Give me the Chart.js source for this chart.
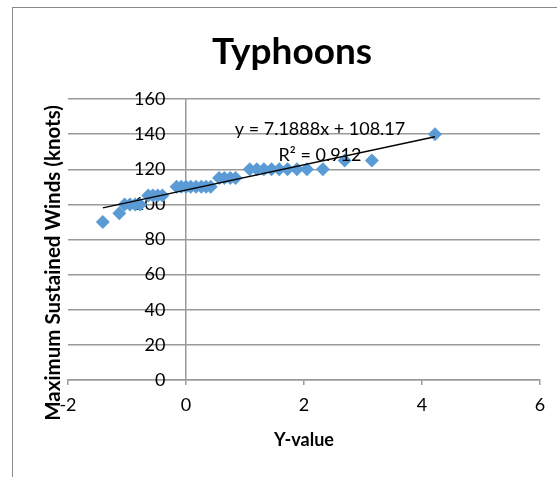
<!DOCTYPE html>
<html>
<head>
<meta charset="utf-8">
<script src="https://cdn.jsdelivr.net/npm/chart.js@4"></script>
<style>
    html, body { margin: 0; padding: 0; background: #fff; }
    #wrap { position: relative; width: 557px; height: 477px; overflow: hidden; }
    #frame { position: absolute; left: 12px; top: 7px; width: 620px; height: 520px; border: 1px solid #8a8a8a; }
    #chart { position: absolute; left: 0; top: 0; }
</style>
</head>
<body>
<div id="wrap">
    <div id="frame"></div>
    <canvas id="chart" width="557" height="477"></canvas>
</div>
<script>
// значения
const yValues = [-1.41, -1.13, -1.04, -0.95, -0.86, -0.78, -0.64, -0.56, -0.48, -0.40,
    -0.16, -0.08, 0.00, 0.08, 0.17, 0.26, 0.34, 0.42, 0.56, 0.65, 0.75, 0.84,
    1.08, 1.20, 1.32, 1.45, 1.58, 1.72, 1.88, 2.05, 2.32, 2.69, 3.15, 4.22];
const maxWinds = [90, 95, 100, 100, 100, 100, 105, 105, 105, 105,
    110, 110, 110, 110, 110, 110, 110, 110, 115, 115, 115, 115,
    120, 120, 120, 120, 120, 120, 120, 120, 120, 125, 125, 140];
const xTickLabels = [-2, 0, 2, 4, 6];
const yTickLabels = [0, 20, 40, 60, 80, 100, 120, 140, 160];
const trendSlope = 7.1888;
const trendIntercept = 108.17;
const trendR2 = 0.912;

const FONT = 'Lato';
const GRID = '#9a9a9a';

const points = yValues.map((x, i) => ({ x: x, y: maxWinds[i] }));
const xMin = Math.min(...yValues);
const xMax = Math.max(...yValues);
const trendLine = [
    { x: xMin, y: trendSlope * xMin + trendIntercept },
    { x: xMax, y: trendSlope * xMax + trendIntercept }
];

// заголовки и уравнение тренда
const textPlugin = {
    id: 'texts',
    afterDraw(chart) {
        const ctx = chart.ctx;
        ctx.save();
        ctx.fillStyle = '#000';
        ctx.textAlign = 'center';
        ctx.textBaseline = 'middle';

        ctx.font = 'bold 37px ' + FONT;
        ctx.fillText('Typhoons', 292, 52);

        ctx.font = '18px ' + FONT;
        ctx.fillText('y = ' + trendSlope + 'x + ' + trendIntercept, 320, 129);
        ctx.fillText('R\u00b2 = ' + trendR2, 320, 155);

        ctx.translate(53, 263);
        ctx.rotate(-Math.PI / 2);
        ctx.font = 'bold 20.5px ' + FONT;
        ctx.fillText('Maximum Sustained Winds (knots)', 0, 0);
        ctx.restore();
    }
};

const ctx = document.getElementById('chart').getContext('2d');
const chart = new Chart(ctx, {
    type: 'scatter',
    data: {
        datasets: [
            {
                type: 'line',
                label: 'Trend',
                data: trendLine,
                borderColor: '#000',
                borderWidth: 1.3,
                pointRadius: 0,
                fill: false
            },
            {
                label: 'Typhoons',
                data: points,
                pointStyle: 'rectRot',
                pointRadius: 7,
                pointHoverRadius: 7,
                backgroundColor: '#5b9bd5',
                borderColor: '#5b9bd5',
                borderWidth: 0
            }
        ]
    },
    options: {
        responsive: false,
        animation: false,
        layout: {
            padding: { left: 68, right: 17, top: 99, bottom: 0 }
        },
        plugins: {
            legend: { display: false },
            tooltip: { enabled: false },
            title: { display: false }
        },
        scales: {
            x: {
                type: 'linear',
                min: xTickLabels[0],
                max: xTickLabels[xTickLabels.length - 1],
                afterBuildTicks: scale => {
                    scale.ticks = xTickLabels.map(v => ({ value: v }));
                },
                afterFit: scale => { scale.height = 97; },
                grid: {
                    drawOnChartArea: true,
                    color: c => (c.tick && c.tick.value === 0) ? GRID : 'rgba(0,0,0,0)',
                    tickColor: GRID,
                    tickLength: 5,
                    lineWidth: 1.5
                },
                border: { display: true, color: GRID, width: 1.5 },
                ticks: {
                    color: '#000',
                    padding: 9,
                    font: { family: FONT, size: 18 }
                },
                title: {
                    display: true,
                    text: 'Y-value',
                    color: '#000',
                    font: { family: FONT, size: 18, weight: 'bold' },
                    padding: { top: 0, bottom: 26 }
                }
            },
            y: {
                position: 'left',
                min: yTickLabels[0],
                max: yTickLabels[yTickLabels.length - 1],
                afterBuildTicks: scale => {
                    scale.ticks = yTickLabels.map(v => ({ value: v }));
                },
                afterFit: scale => { scale.width = 0; },
                grid: {
                    color: GRID,
                    lineWidth: 1.5,
                    drawTicks: false
                },
                border: { display: false },
                ticks: {
                    mirror: true,
                    crossAlign: 'far',
                    padding: 66,
                    color: '#000',
                    font: { family: FONT, size: 18 }
                }
            }
        }
    },
    plugins: [textPlugin]
});
</script>
</body>
</html>
